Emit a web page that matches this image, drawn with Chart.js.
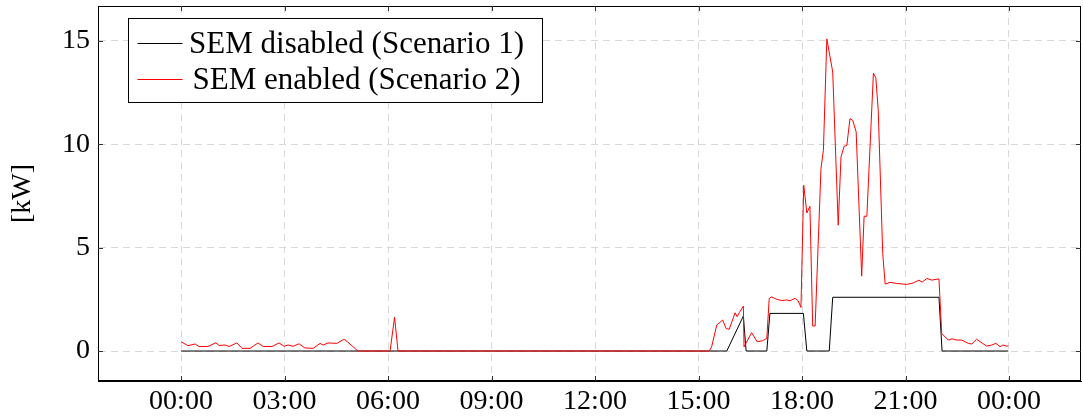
<!DOCTYPE html>
<html>
<head>
<meta charset="utf-8">
<script src="https://cdn.jsdelivr.net/npm/chart.js@4/dist/chart.umd.min.js"></script>
<style>
  html, body { margin: 0; padding: 0; background: #fff; }
  #wrap { width: 1083px; height: 419px; }
</style>
</head>
<body>
<div id="wrap"><canvas id="c" width="1083" height="419"></canvas></div>
<script>
// Household grid power over one day, time in hours since midnight.
const seriesNames = ['SEM disabled (Scenario 1)', 'SEM enabled (Scenario 2)'];

const hoursDisabled = [0, 15.82, 16.30, 16.38, 16.98, 17.07, 18.04, 18.14, 18.79, 18.89, 21.97, 22.06, 23.98];
const kwDisabled    = [0, 0,     1.69,  0,     0,     1.82,  1.82,  0,     0,     2.6,   2.6,   0,     0];

const hoursEnabled = [
  0, 0.20, 0.41, 0.52, 0.78, 1.01, 1.10, 1.28, 1.39, 1.62, 1.77, 2.00, 2.23, 2.38, 2.64, 2.84,
  2.99, 3.10, 3.25, 3.42, 3.59, 3.83, 4.03, 4.12, 4.26, 4.52, 4.70, 4.75, 4.84, 5.13,
  6.06, 6.19, 6.29, 15.31, 15.38, 15.53, 15.70, 15.80, 15.89, 16.06, 16.12, 16.18, 16.30, 16.32,
  16.54, 16.70, 16.86, 16.98, 17.05, 17.12, 17.27, 17.41, 17.56, 17.65, 17.80, 17.89, 17.97,
  18.05, 18.14, 18.23, 18.31, 18.38, 18.55, 18.62, 18.72, 18.89, 19.05, 19.13, 19.22, 19.30,
  19.39, 19.47, 19.57, 19.73, 19.80, 19.88, 20.07, 20.14, 20.21, 20.34, 20.41, 20.55, 20.75,
  21.03, 21.22, 21.39, 21.48, 21.62, 21.76, 21.97, 22.05, 22.24, 22.35, 22.49, 22.63, 22.82,
  22.92, 23.06, 23.35, 23.50, 23.62, 23.74, 23.82, 23.93, 23.98
];
const kwEnabled = [
  0.45, 0.26, 0.34, 0.22, 0.22, 0.40, 0.27, 0.29, 0.22, 0.39, 0.13, 0.13, 0.39, 0.22, 0.22, 0.39,
  0.23, 0.29, 0.23, 0.35, 0.15, 0.13, 0.37, 0.29, 0.39, 0.37, 0.55, 0.55, 0.42, 0,
  0, 1.64, 0, 0, 0.2, 1.26, 1.5, 1.09, 1.05, 1.85, 1.66, 1.85, 2.17, 0.2,
  0.89, 0.45, 0.5, 0.61, 2.55, 2.62, 2.5, 2.44, 2.47, 2.43, 2.55, 2.43, 2.11,
  8.02, 6.68, 7.0, 1.21, 1.21, 8.83, 9.71, 15.1, 13.5, 6.09, 9.39, 9.9, 9.95,
  11.24, 11.16, 10.6, 3.62, 6.52, 6.52, 13.44, 13.22, 11.64, 4.72, 3.24, 3.32, 3.27,
  3.22, 3.29, 3.43, 3.33, 3.51, 3.43, 3.49, 0.85, 0.53, 0.59, 0.53, 0.53, 0.37,
  0.34, 0.57, 0.24, 0.29, 0.37, 0.21, 0.29, 0.24, 0.25
];

const xTickHours = [0, 3, 6, 9, 12, 15, 18, 21, 24];
const xTickLabels = ['00:00', '03:00', '06:00', '09:00', '12:00', '15:00', '18:00', '21:00', '00:00'];
const yTickValues = [0, 5, 10, 15];
const yAxisTitle = '[kW]';

const FONT = '"Liberation Serif", "Times New Roman", serif';
const FSIZE = 28;
const LEGEND_FSIZE = 31;

const toPoints = (xs, ys) => xs.map((x, i) => ({ x: x, y: ys[i] }));

// Full frame, inward tick marks and the boxed legend in the upper left.
const framePlugin = {
  id: 'frame',
  afterDraw(chart) {
    const { ctx, chartArea: a, scales } = chart;
    ctx.save();
    ctx.strokeStyle = '#000';
    ctx.lineWidth = 1;
    ctx.setLineDash([]);
    ctx.strokeRect(Math.round(a.left) + 0.5, Math.round(a.top) + 0.5,
                   Math.round(a.right - a.left) - 1, Math.round(a.bottom - a.top) - 1);
    ctx.strokeStyle = '#333';
    const tl = 5;
    ctx.beginPath();
    xTickHours.forEach(h => {
      const px = Math.round(scales.x.getPixelForValue(h)) + 0.5;
      ctx.moveTo(px, a.bottom); ctx.lineTo(px, a.bottom - tl);
      ctx.moveTo(px, a.top); ctx.lineTo(px, a.top + tl);
    });
    yTickValues.forEach(v => {
      const py = Math.round(scales.y.getPixelForValue(v)) + 0.5;
      ctx.moveTo(a.left, py); ctx.lineTo(a.left + tl, py);
      ctx.moveTo(a.right, py); ctx.lineTo(a.right - tl, py);
    });
    ctx.stroke();

    // legend box
    const bx = a.left + 30.5, by = a.top + 12.5, bw = 414, bh = 84;
    ctx.fillStyle = '#fff';
    ctx.fillRect(bx, by, bw, bh);
    ctx.strokeStyle = '#000';
    ctx.strokeRect(bx, by, bw, bh);
    ctx.font = LEGEND_FSIZE + 'px ' + FONT;
    ctx.textAlign = 'center';
    ctx.textBaseline = 'middle';
    const rows = [by + 24, by + 60];
    chart.data.datasets.forEach((ds, i) => {
      const y = Math.round(rows[i]) + 0.5;
      ctx.strokeStyle = ds.borderColor;
      ctx.beginPath();
      ctx.moveTo(bx + 9, y); ctx.lineTo(bx + 54, y);
      ctx.stroke();
      ctx.fillStyle = '#000';
      ctx.fillText(ds.label, bx + 228, y + 1);
    });
    ctx.restore();
  }
};

const noEdgePadding = s => {
  s.paddingTop = 0; s.paddingBottom = 0; s.paddingLeft = 0; s.paddingRight = 0;
};

new Chart(document.getElementById('c'), {
  type: 'line',
  data: {
    datasets: [
      {
        label: seriesNames[0],
        data: toPoints(hoursDisabled, kwDisabled),
        borderColor: '#000000',
        borderWidth: 1,
        pointRadius: 0,
        tension: 0,
        order: 2
      },
      {
        label: seriesNames[1],
        data: toPoints(hoursEnabled, kwEnabled),
        borderColor: '#ff0000',
        borderWidth: 1,
        pointRadius: 0,
        tension: 0,
        order: 1
      }
    ]
  },
  options: {
    responsive: false,
    animation: false,
    layout: { padding: { left: 0, top: 6, right: 2, bottom: 0 } },
    plugins: { legend: { display: false }, tooltip: { enabled: false } },
    scales: {
      x: {
        type: 'linear',
        min: -2.406,
        max: 26.087,
        afterBuildTicks: s => { s.ticks = xTickHours.map(v => ({ value: v })); },
        afterFit: s => { s.height = 38; noEdgePadding(s); },
        ticks: {
          color: '#000',
          font: { family: FONT, size: FSIZE },
          padding: 4,
          maxRotation: 0,
          autoSkip: false,
          callback: (v, i) => xTickLabels[i]
        },
        grid: { color: '#d9d9d9', lineWidth: 1, drawTicks: false },
        border: { display: true, color: '#000', width: 1, dash: [7, 5] }
      },
      y: {
        type: 'linear',
        min: -1.45,
        max: 16.69,
        afterBuildTicks: s => { s.ticks = yTickValues.map(v => ({ value: v })); },
        afterFit: s => { s.width = 98; noEdgePadding(s); },
        ticks: {
          color: '#000',
          font: { family: FONT, size: FSIZE },
          padding: 8,
          callback: v => String(v)
        },
        grid: { color: '#d9d9d9', lineWidth: 1, drawTicks: false },
        border: { display: true, color: '#000', width: 1, dash: [7, 5] },
        title: {
          display: true,
          text: yAxisTitle,
          color: '#000',
          font: { family: FONT, size: FSIZE },
          padding: { top: 6, bottom: 0 }
        }
      }
    }
  },
  plugins: [framePlugin]
});
</script>
</body>
</html>
